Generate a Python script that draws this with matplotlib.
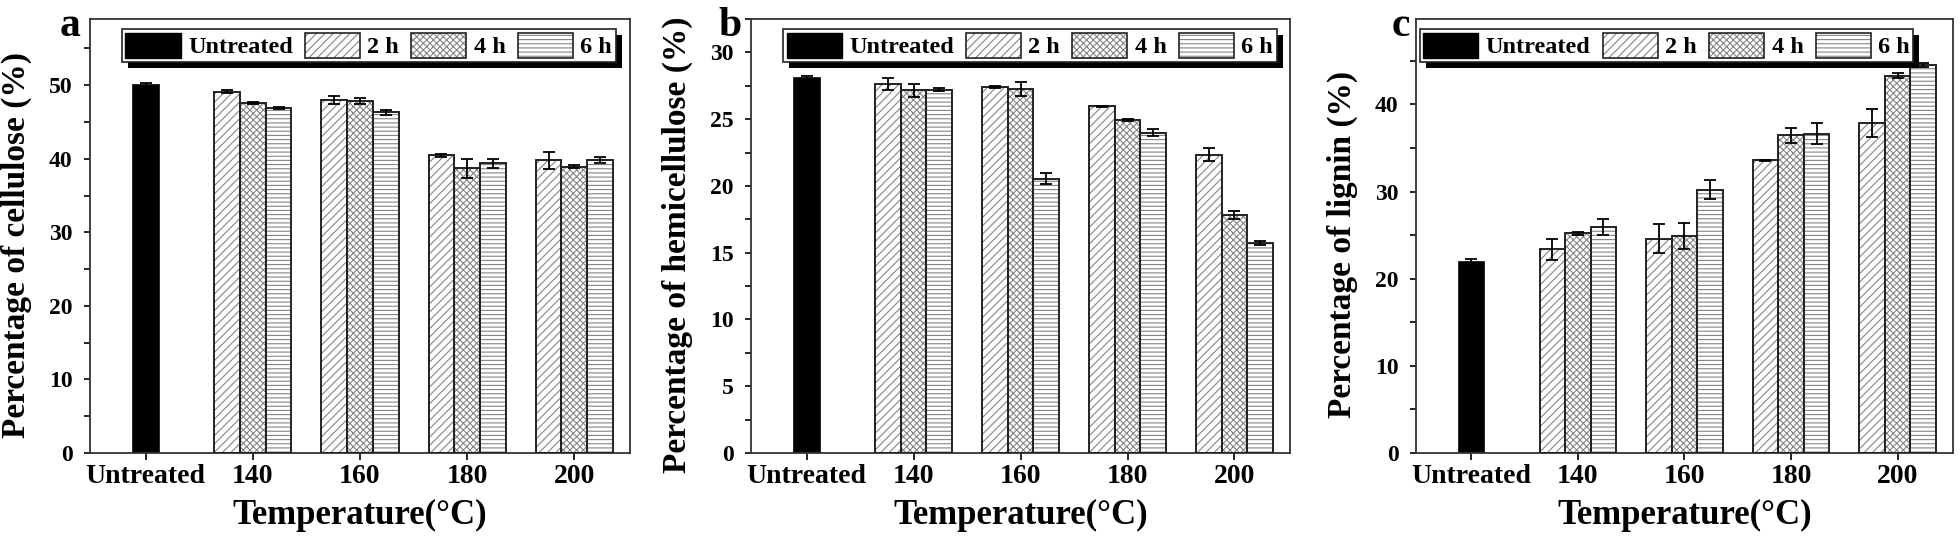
import numpy as np
import matplotlib.pyplot as plt
from matplotlib.patches import Patch, Rectangle
from matplotlib.transforms import IdentityTransform
from matplotlib.legend_handler import HandlerTuple
from matplotlib.ticker import MultipleLocator

plt.rcParams['font.family'] = ['Liberation Serif', 'DejaVu Serif']
plt.rcParams['font.weight'] = 'bold'
plt.rcParams['axes.labelweight'] = 'bold'
plt.rcParams['hatch.linewidth'] = 0.8

# categories on the x axis
categories = ['Untreated', '140', '160', '180', '200']
times = ['2 h', '4 h', '6 h']

# cellulose (%)
cel_untreated, cel_untreated_err = 50.0, 0.3
cel_2h = [49.1, 48.0, 40.5, 39.8]
cel_4h = [47.6, 47.8, 38.7, 38.9]
cel_6h = [46.9, 46.3, 39.4, 39.8]
cel_2h_err = [0.2, 0.6, 0.2, 1.15]
cel_4h_err = [0.15, 0.4, 1.3, 0.2]
cel_6h_err = [0.2, 0.3, 0.6, 0.4]

# hemicellulose (%)
hem_untreated, hem_untreated_err = 28.1, 0.1
hem_2h = [27.6, 27.4, 25.95, 22.35]
hem_4h = [27.15, 27.25, 24.95, 17.8]
hem_6h = [27.2, 20.55, 24.0, 15.75]
hem_2h_err = [0.45, 0.1, 0.03, 0.5]
hem_4h_err = [0.5, 0.5, 0.1, 0.3]
hem_6h_err = [0.1, 0.4, 0.25, 0.15]

# lignin (%)
lig_untreated, lig_untreated_err = 21.9, 0.35
lig_2h = [23.4, 24.6, 33.6, 37.9]
lig_4h = [25.2, 24.9, 36.45, 43.3]
lig_6h = [25.9, 30.2, 36.65, 44.5]
lig_2h_err = [1.2, 1.7, 0.05, 1.6]
lig_4h_err = [0.15, 1.5, 0.85, 0.3]
lig_6h_err = [0.9, 1.1, 1.2, 0.2]

hatches = ['////', 'xxxxx', '----']
hatch_color = '#858585'
width = 0.24

fig = plt.figure(figsize=(19.6, 5.42), dpi=100)
ax_a = fig.add_axes([0.0459, 0.1642, 0.2755, 0.8007])
ax_b = fig.add_axes([0.3832, 0.1642, 0.2750, 0.8007])
ax_c = fig.add_axes([0.7224, 0.1642, 0.2740, 0.8007])


def draw_panel(ax, untreated, untreated_err, series, errs, ylim, major, ylabel, letter, letter_x, leg_x):
    x = np.arange(1, len(categories))
    ax.bar(0, untreated, width, color='black', edgecolor='black', linewidth=1.2, zorder=2)
    ax.errorbar(0, untreated, yerr=untreated_err, fmt='none', ecolor='black',
                elinewidth=1.3, capsize=4, capthick=1.3, zorder=4)
    for i, (vals, err, h) in enumerate(zip(series, errs, hatches)):
        pos = x + (i - 1) * width
        ax.bar(pos, vals, width, color='white', edgecolor=hatch_color, hatch=h, linewidth=0, zorder=2)
        ax.bar(pos, vals, width, fill=False, edgecolor='#222222', linewidth=1.4, zorder=3)
        ax.errorbar(pos, vals, yerr=err, fmt='none', ecolor='black',
                    elinewidth=1.3, capsize=4, capthick=1.3, zorder=4)

    ax.set_xlim(-0.52, 4.52)
    ax.set_ylim(*ylim)
    ax.set_xticks(range(len(categories)))
    ax.set_xticklabels(categories, fontsize=20)
    ax.yaxis.set_major_locator(MultipleLocator(major))
    ax.yaxis.set_minor_locator(MultipleLocator(major / 2))
    ax.tick_params(axis='y', which='both', direction='out', length=4.5, width=1.2, labelsize=17, pad=8)
    ax.tick_params(axis='x', direction='out', length=5, width=1.2, pad=3)
    for s in ax.spines.values():
        s.set_linewidth(1.3)
        s.set_color('#333333')

    ax.set_xlabel('Temperature(°C)', fontsize=25)
    ax.xaxis.set_label_coords(0.5, -0.105)
    ax.set_ylabel(ylabel, fontsize=24)
    ax.yaxis.set_label_coords(-0.108, 0.48)
    ax.text(letter_x, 0.96, letter, transform=ax.transAxes, ha='right', va='baseline', fontsize=30)

    handles = [Patch(facecolor='black', edgecolor='black')]
    for h in hatches:
        handles.append((Patch(facecolor='white', edgecolor=hatch_color, hatch=h, linewidth=0),
                        Patch(fill=False, edgecolor='#222222', linewidth=1.2)))
    leg = ax.legend(handles, ['Untreated'] + times, ncol=4, loc='upper left',
                    bbox_to_anchor=(leg_x, 0.977), borderaxespad=0, fontsize=17.5,
                    handlelength=2.27, handleheight=1.2, handletextpad=0.3, columnspacing=0.5,
                    borderpad=0.15, fancybox=False, framealpha=1, edgecolor='#222222',
                    handler_map={tuple: HandlerTuple(ndivide=1, pad=0)})
    leg.get_frame().set_linewidth(1.2)
    return leg


legs = [
    draw_panel(ax_a, cel_untreated, cel_untreated_err, [cel_2h, cel_4h, cel_6h],
               [cel_2h_err, cel_4h_err, cel_6h_err], (0, 59), 10,
               'Percentage of cellulose (%)', 'a', -0.018, 0.059),
    draw_panel(ax_b, hem_untreated, hem_untreated_err, [hem_2h, hem_4h, hem_6h],
               [hem_2h_err, hem_4h_err, hem_6h_err], (0, 32.5), 5,
               'Percentage of hemicellulose (%)', 'b', -0.017, 0.059),
    draw_panel(ax_c, lig_untreated, lig_untreated_err, [lig_2h, lig_4h, lig_6h],
               [lig_2h_err, lig_4h_err, lig_6h_err], (0, 49.8), 10,
               'Percentage of lignin (%)', 'c', -0.011, 0.007),
]

# black drop shadow behind each legend box
fig.canvas.draw()
for ax, leg in zip([ax_a, ax_b, ax_c], legs):
    bb = leg.get_window_extent()
    shadow = Rectangle((bb.x0 + 6, bb.y0 - 6), bb.width, bb.height, transform=IdentityTransform(),
                       facecolor='black', edgecolor='none', zorder=4.9, clip_on=False)
    ax.add_artist(shadow)

fig.savefig('out.png', dpi=100)
